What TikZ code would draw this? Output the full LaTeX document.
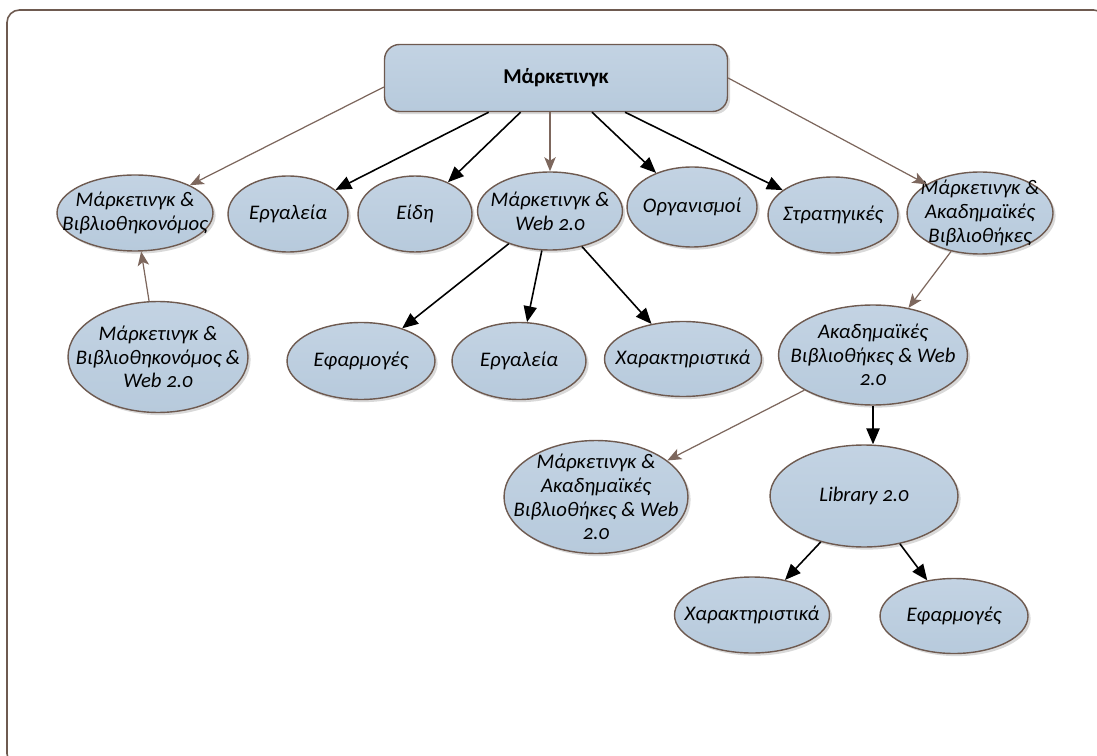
\documentclass[tikz,border=0pt]{standalone}
\usepackage{fontspec}
\setmainfont{Carlito}[Numbers=OldStyle]
\usetikzlibrary{arrows.meta,shapes.geometric,shadows}
\definecolor{edge}{HTML}{6E5A50}
\definecolor{brn}{HTML}{7D675D}
\definecolor{bublt}{HTML}{C3D3E3}
\definecolor{bubdk}{HTML}{B7CADC}
\tikzset{
	bub/.style 2 args={ellipse,draw=edge,line width=0.8pt,top color=bublt,bottom color=bubdk,
		minimum width=#1cm,minimum height=#2cm,inner sep=0pt,
		drop shadow={shadow xshift=1.5pt,shadow yshift=-1.5pt,fill=black,opacity=0.15}},
	txt/.style={font=\fontsize{11.8}{13.5}\selectfont\itshape,align=center,inner sep=0pt},
	box/.style={rectangle,rounded corners=0.3cm,draw=edge,line width=0.8pt,top color=bublt,bottom color=bubdk,
		minimum width=6.86cm,minimum height=1.34cm,font=\fontsize{12}{14}\selectfont\bfseries,
		drop shadow={shadow xshift=1.5pt,shadow yshift=-1.5pt,fill=black,opacity=0.15}},
	blk/.style={draw=black,line width=0.9pt,-{Triangle[length=9pt,width=7.5pt]}},
	brw/.style={draw=brn,line width=0.7pt,-{Stealth[length=8pt,width=6.5pt,inset=2pt]}}
}

\begin{document}
\begin{tikzpicture}[x=0.02cm,y=-0.02cm]
	\useasboundingbox (0,0) rectangle (1097,756);
	\clip (0,0) rectangle (1097,756);
	\draw[edge,line width=0.9pt,rounded corners=0.25cm] (7,10) rectangle (1106,766);
	% top
	\node[box] (root) at (556,78) {Μάρκετινγκ};
	% first row
	\node[bub={3.12}{1.52},label={[txt]center:{Μάρκετινγκ \&\\Βιβλιοθηκονόμος}}] (mb) at (135,213) {};
	\node[bub={2.40}{1.52},label={[txt]center:Εργαλεία}] (erg) at (288,214) {};
	\node[bub={2.28}{1.52},label={[txt]center:Είδη}] (eid) at (415,214) {};
	\node[bub={2.90}{1.56},label={[txt]center:{Μάρκετινγκ \&\\Web 2.0}}] (mw) at (550,211) {};
	\node[bub={2.60}{1.60},label={[txt]center:Οργανισμοί}] (org) at (692,207) {};
	\node[bub={2.60}{1.52},label={[txt]center:Στρατηγικές}] (str) at (833,215) {};
	\node[bub={2.92}{1.64},label={[txt]center:{Μάρκετινγκ \&\\Ακαδημαϊκές\\Βιβλιοθήκες}}] (mab) at (980,213) {};
	% second row
	\node[bub={3.60}{2.22},label={[txt]center:{Μάρκετινγκ \&\\Βιβλιοθηκονόμος \&\\Web 2.0}}] (mbw) at (158,357) {};
	\node[bub={2.96}{1.54},label={[txt]center:Εφαρμογές}] (efa) at (361,361) {};
	\node[bub={2.68}{1.54},label={[txt]center:Εργαλεία}] (erg2) at (519,361) {};
	\node[bub={3.14}{1.50},label={[txt]center:Χαρακτηριστικά}] (xar) at (683,359) {};
	\node[bub={3.78}{2.00},label={[txt]center:{Ακαδημαϊκές\\Βιβλιοθήκες \& Web\\2.0}}] (abw) at (873,355) {};
	% third row
	\node[bub={3.68}{2.26},label={[txt]center:{Μάρκετινγκ \&\\Ακαδημαϊκές\\Βιβλιοθήκες \& Web\\2.0}}] (mabw) at (596,497) {};
	\node[bub={3.76}{2.04},label={[txt]center:Library 2.0}] (lib) at (864,496) {};
	\node[bub={3.10}{1.52},label={[txt]center:Χαρακτηριστικά}] (xar3) at (752,615) {};
	\node[bub={2.96}{1.50},label={[txt]center:Εφαρμογές}] (efa3) at (954,616) {};
	% connectors
	\draw[brw] (root.183) -- (mb);
	\draw[brw] (root.south -| mw) -- (mw);
	\draw[brw] (root.east) -- (mab);
	\foreach \n in {erg,eid,org,str}
	\draw[blk] (root) -- (\n);
	\foreach \n in {efa,erg2,xar}
	\draw[blk] (mw) -- (\n);
	\draw[brw] (mbw) -- (mb);
	\draw[brw] (mab) -- (abw);
	\draw[brw] (abw) -- (mabw);
	\draw[blk] (abw) -- (abw |- lib.north);
	\draw[blk] (lib) -- (xar3);
	\draw[blk] (lib) -- (efa3);
\end{tikzpicture}
\end{document}
